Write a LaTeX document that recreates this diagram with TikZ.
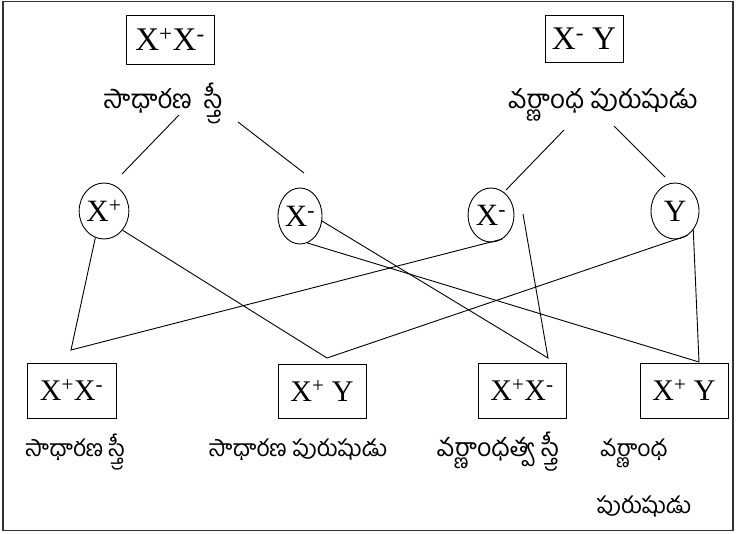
\documentclass[tikz,border=0pt]{standalone}
\usepackage{fontspec}
\setmainfont{Liberation Serif}
\newfontfamily\telugu[Script=Telugu]{Hind Guntur}
\usetikzlibrary{shapes.geometric}

\newcommand{\plus}{\textsuperscript{+}}
\newcommand{\minus}{\textsuperscript{-}}

\tikzset{
  genobox/.style={draw, line width=0.9pt, inner sep=0pt, font=\fontsize{33}{33}\selectfont},
  lowbox/.style={draw, line width=0.9pt, inner sep=0pt, font=\fontsize{30}{30}\selectfont},
  gamete/.style={draw, ellipse, line width=0.9pt, inner sep=0pt, font=\fontsize{31}{31}\selectfont},
  toplabel/.style={inner sep=0pt, anchor=base, font=\telugu\fontsize{26}{26}\selectfont},
  tlabel/.style={inner sep=0pt, anchor=base, font=\telugu\fontsize{23}{23}\selectfont},
  link/.style={line width=0.9pt},
}

\begin{document}
\begin{tikzpicture}[x=1pt, y=-1pt]
  \useasboundingbox (0,0) rectangle (736,533);
  % outer frame
  \draw[line width=1.3pt, black!80] (3,1.5) rectangle (733,530.5);

  % parents
  \node[genobox, minimum width=88pt, minimum height=49pt] (p1) at (170,39.5) {X\plus X\minus};
  \node[genobox, minimum width=78pt, minimum height=47pt] (p2) at (584,38.5) {X\minus{} Y};
  \node[toplabel] (l1) at (163,108) {సాధారణ\ \ స్త్రీ};
  \node[toplabel] (l2) at (603,108) {వర్ణాంధ పురుషుడు};

  % gametes
  \node[gamete, minimum width=48pt, minimum height=56pt] (g1) at (104,211) {X\plus};
  \node[gamete, minimum width=44pt, minimum height=56pt] (g2) at (300,216) {X\minus};
  \node[gamete, minimum width=46pt, minimum height=54pt] (g3) at (491,215) {X\minus};
  \node[gamete, minimum width=48pt, minimum height=56pt] (g4) at (675,211) {Y};

  % free ends of the parent-to-gamete strokes
  \coordinate (t1a) at (179,115);  \coordinate (t1b) at (122,174);
  \coordinate (t2a) at (238,122);  \coordinate (t2b) at (304,173);
  \coordinate (t3a) at (564,130);  \coordinate (t3b) at (506,190);
  \coordinate (t4a) at (614,126);  \coordinate (t4b) at (665,177);
  \draw[link] (t1a) -- (t1b);
  \draw[link] (t2a) -- (t2b);
  \draw[link] (t3a) -- (t3b);
  \draw[link] (t4a) -- (t4b);

  % meeting points above the offspring
  \coordinate (m1) at (71,350);
  \coordinate (m2) at (327,358);
  \coordinate (m3) at (548,358);
  \coordinate (m4) at (699,362);
  \coordinate (s3) at (523,214);

  \draw[link] (g1.-108) -- (m1) -- (g3.-65);
  \draw[link] (g1.-46) -- (m2) -- (g4.-63);
  \draw[link] (g2.-13) -- (m3) -- (s3);
  \draw[link] (g2.-75) -- (m4) -- (g4.-46);

  % offspring
  \node[lowbox, minimum width=89pt, minimum height=55pt] (c1) at (71.5,390.5) {X\plus X\minus};
  \node[lowbox, minimum width=88pt, minimum height=54pt] (c2) at (322,391) {X\plus{} Y};
  \node[lowbox, minimum width=88pt, minimum height=55pt] (c3) at (522,390.5) {X\plus X\minus};
  \node[lowbox, minimum width=88pt, minimum height=55pt] (c4) at (684,390.5) {X\plus{} Y};

  \node[tlabel] (d1) at (75,456) {సాధారణ స్త్రీ};
  \node[tlabel] (d2) at (298,456) {సాధారణ పురుషుడు};
  \node[tlabel, font=\telugu\fontsize{25}{25}\selectfont] (d3) at (498,456) {వర్ణాంధత్వ స్త్రీ};
  \node[tlabel] (d4) at (634,456) {వర్ణాంధ};
  \node[tlabel] (d5) at (644,513) {పురుషుడు};
\end{tikzpicture}
\end{document}
